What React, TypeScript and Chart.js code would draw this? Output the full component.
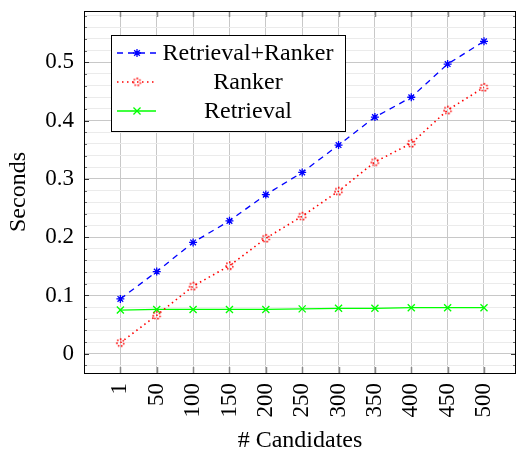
import React, { useEffect, useRef } from "react";
import { Chart, registerables } from "chart.js";

Chart.register(...registerables);

const categories = ["1", "50", "100", "150", "200", "250", "300", "350", "400", "450", "500"];
const retrievalRanker = [0.094, 0.141, 0.191, 0.228, 0.273, 0.311, 0.358, 0.406, 0.44, 0.497, 0.536];
const ranker = [0.019, 0.066, 0.116, 0.151, 0.198, 0.236, 0.279, 0.329, 0.361, 0.418, 0.457];
const retrieval = [0.075, 0.076, 0.076, 0.076, 0.076, 0.077, 0.078, 0.078, 0.079, 0.079, 0.079];
const seriesNames = ["Retrieval+Ranker", "Ranker", "Retrieval"];
const yTickStep = 0.02;

const FONT = "'Liberation Serif', 'DejaVu Serif', serif";

const toPoints = (vals: number[]) => vals.map((y, i) => ({ x: i, y }));

function makeDottedCircle(color: string, r: number): HTMLCanvasElement {
  const size = Math.ceil(r * 2 + 4);
  const c = document.createElement("canvas");
  c.width = size;
  c.height = size;
  const g = c.getContext("2d")!;
  g.fillStyle = color;
  const n = 7;
  for (let k = 0; k < n; k++) {
    const a = (k / n) * Math.PI * 2 + 0.3;
    g.beginPath();
    g.arc(size / 2 + Math.cos(a) * r, size / 2 + Math.sin(a) * r, 0.9, 0, Math.PI * 2);
    g.fill();
  }
  return c;
}

function drawMarker(ctx: CanvasRenderingContext2D, style: any, r: number, x: number, y: number) {
  if (typeof style !== "string") {
    ctx.drawImage(style, x - style.width / 2, y - style.height / 2);
    return;
  }
  ctx.beginPath();
  if (style === "crossRot") {
    const d = r * Math.SQRT1_2;
    ctx.moveTo(x - d, y - d); ctx.lineTo(x + d, y + d);
    ctx.moveTo(x - d, y + d); ctx.lineTo(x + d, y - d);
  } else if (style === "star") {
    ctx.moveTo(x, y - r); ctx.lineTo(x, y + r);
    ctx.moveTo(x - r, y); ctx.lineTo(x + r, y);
    const d = r * Math.SQRT1_2;
    ctx.moveTo(x - d, y - d); ctx.lineTo(x + d, y + d);
    ctx.moveTo(x - d, y + d); ctx.lineTo(x + d, y - d);
  } else {
    ctx.arc(x, y, r, 0, Math.PI * 2);
  }
  ctx.stroke();
}

const frameLegendPlugin = {
  id: "frameLegend",
  afterDatasetsDraw(chart: any) {
    const { ctx, chartArea } = chart;
    const { left, right, top, bottom } = chartArea;
    const ys = chart.scales.y;
    const xs = chart.scales.x;
    ctx.save();
    ctx.lineWidth = 1;
    for (let r = -2; r <= 58; r += 2) {
      const py = Math.round(ys.getPixelForValue(r / 100)) + 0.5;
      if (py < top || py > bottom) continue;
      const major = r % 10 === 0;
      const len = major ? 5 : 3;
      ctx.strokeStyle = major ? "#333" : "#666";
      ctx.beginPath();
      ctx.moveTo(left, py);
      ctx.lineTo(left + len, py);
      ctx.moveTo(right, py);
      ctx.lineTo(right - len, py);
      ctx.stroke();
    }
    ctx.strokeStyle = "#888";
    ctx.lineWidth = 1.5;
    for (let i = 0; i < categories.length; i++) {
      const px = Math.round(xs.getPixelForValue(i)) + 0.5;
      ctx.beginPath();
      ctx.moveTo(px, bottom);
      ctx.lineTo(px, bottom - 6);
      ctx.moveTo(px, top);
      ctx.lineTo(px, top + 6);
      ctx.stroke();
    }
    ctx.strokeStyle = "#000";
    ctx.lineWidth = 1;
    ctx.strokeRect(Math.round(left) + 0.5, Math.round(top) + 0.5, Math.round(right - left) - 1, Math.round(bottom - top));

    // legend box
    const bx = 111, by = 35, bw = 234, bh = 96;
    ctx.fillStyle = "#fff";
    ctx.fillRect(bx, by, bw, bh);
    ctx.strokeStyle = "#000";
    ctx.lineWidth = 1;
    ctx.strokeRect(bx + 0.5, by + 0.5, bw, bh);
    const rows = [53, 82, 111];
    chart.data.datasets.forEach((ds: any, i: number) => {
      const ry = rows[i];
      ctx.save();
      ctx.strokeStyle = ds.borderColor;
      ctx.lineWidth = ds.borderWidth;
      ctx.setLineDash(ds.borderDash || []);
      ctx.beginPath();
      ctx.moveTo(117, ry);
      ctx.lineTo(156, ry);
      ctx.stroke();
      ctx.restore();
      ctx.save();
      ctx.strokeStyle = ds.pointBorderColor;
      ctx.lineWidth = ds.pointBorderWidth;
      drawMarker(ctx, ds.pointStyle, ds.pointRadius, 137, ry);
      ctx.restore();
      ctx.fillStyle = "#000";
      ctx.font = `24px ${FONT}`;
      ctx.textAlign = "center";
      ctx.textBaseline = "middle";
      ctx.fillText(ds.label, 248, ry + 1);
    });
    ctx.restore();
  },
};

export default function App() {
  const ref = useRef<HTMLCanvasElement | null>(null);
  useEffect(() => {
    if (!ref.current) return;
    const redDot = makeDottedCircle("#ff0000", 3.5);
    const chart = new Chart(ref.current, {
      type: "line",
      data: {
        datasets: [
          {
            label: seriesNames[0],
            data: toPoints(retrievalRanker),
            borderColor: "#0000ff",
            borderWidth: 1.3,
            borderDash: [6, 5],
            pointStyle: "star",
            pointRadius: 4,
            pointBorderColor: "#0000ff",
            pointBackgroundColor: "#0000ff",
            pointBorderWidth: 1.3,
            fill: false,
            tension: 0,
          } as any,
          {
            label: seriesNames[1],
            data: toPoints(ranker),
            borderColor: "#ff0000",
            borderWidth: 1.6,
            borderDash: [1.5, 3.5],
            pointStyle: redDot,
            pointRadius: 3,
            pointBorderColor: "#ff0000",
            pointBackgroundColor: "#ff0000",
            pointBorderWidth: 1.3,
            fill: false,
            tension: 0,
          } as any,
          {
            label: seriesNames[2],
            data: toPoints(retrieval),
            borderColor: "#00ff00",
            borderWidth: 1.3,
            pointStyle: "crossRot",
            pointRadius: 5,
            pointBorderColor: "#00ff00",
            pointBackgroundColor: "#00ff00",
            pointBorderWidth: 1.3,
            fill: false,
            tension: 0,
          } as any,
        ],
      },
      options: {
        responsive: false,
        animation: false,
        devicePixelRatio: 1,
        layout: { autoPadding: false, padding: { top: 11, right: 1, left: 0, bottom: 0 } },
        plugins: { legend: { display: false }, tooltip: { enabled: false } },
        scales: {
          x: {
            type: "linear",
            min: -1,
            max: 10.88,
            border: { display: false },
            afterFit: (s: any) => { s.height = 82; s.paddingLeft = 0; s.paddingRight = 0; s.paddingTop = 0; s.paddingBottom = 0; },
            grid: {
              drawTicks: false,
              color: (c: any) => (c.tick && c.tick.value >= 0 ? "#c8c8c8" : "rgba(0,0,0,0)"),
              lineWidth: 1,
            },
            ticks: {
              stepSize: 1,
              includeBounds: false,
              autoSkip: false,
              minRotation: 90,
              maxRotation: 90,
              padding: 10,
              color: "#000",
              font: { family: FONT, size: 23 },
              callback: (v: any) => (Number.isInteger(v) && v >= 0 && v < categories.length ? categories[v] : ""),
            },
            title: {
              display: true,
              text: "# Candidates",
              color: "#000",
              font: { family: FONT, size: 24 },
              padding: { top: 0, bottom: 0 },
            },
          },
          y: {
            type: "linear",
            min: -0.033,
            max: 0.588,
            border: { display: false },
            afterFit: (s: any) => { s.width = 84; s.paddingTop = 0; s.paddingBottom = 0; s.paddingLeft = 0; s.paddingRight = 0; },
            grid: {
              drawTicks: false,
              color: (c: any) => {
                const r = Math.round(c.tick.value * 100);
                return r % 10 === 0 ? "#c8c8c8" : "#ebebeb";
              },
              lineWidth: 1,
            },
            ticks: {
              stepSize: yTickStep,
              includeBounds: false,
              autoSkip: false,
              padding: 10,
              color: "#000",
              font: { family: FONT, size: 23 },
              callback: (v: any) => {
                const r = Math.round(Number(v) * 100);
                if (r % 10 !== 0) return "";
                return String(r / 100);
              },
            },
            title: {
              display: true,
              text: "Seconds",
              color: "#000",
              font: { family: FONT, size: 24 },
              padding: { top: 4, bottom: 0 },
            },
          },
        },
      },
      plugins: [frameLegendPlugin],
    });
    return () => chart.destroy();
  }, []);
  return (
    <div style={{ position: "fixed", left: 0, top: 0, width: 517, height: 455, background: "#fff" }}>
      <canvas ref={ref} width={517} height={455} style={{ display: "block", width: 517, height: 455 }} />
    </div>
  );
}
